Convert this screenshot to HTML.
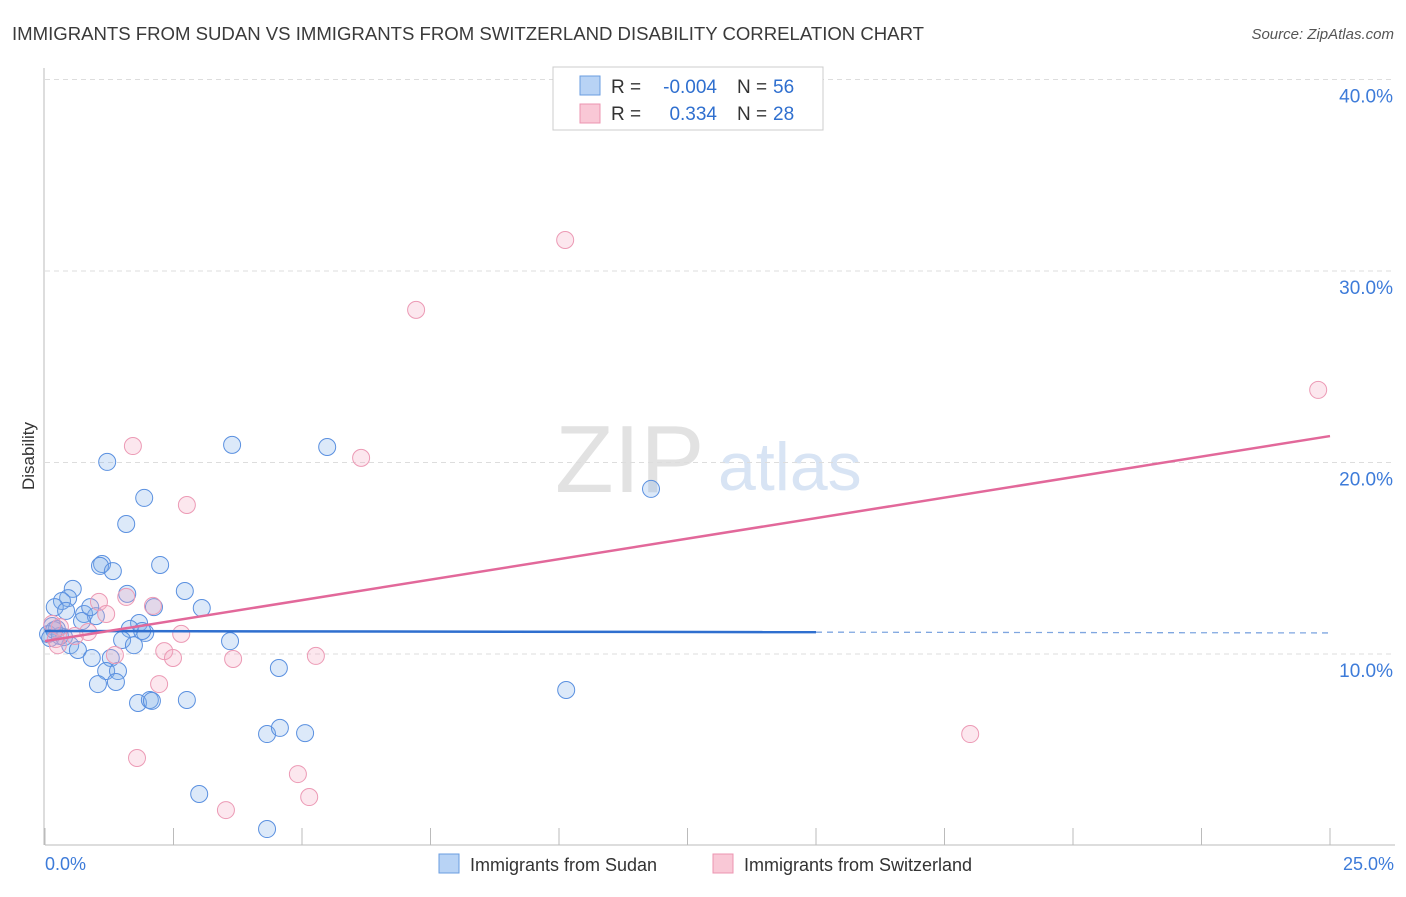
<!DOCTYPE html>
<html><head><meta charset="utf-8">
<style>
body{margin:0;background:#fff;font-family:"Liberation Sans",sans-serif;}
svg text{font-family:"Liberation Sans",sans-serif;}
</style></head>
<body>
<svg id="chart" width="1406" height="892" xmlns="http://www.w3.org/2000/svg">
<text x="12" y="40" font-size="18.6" fill="#3a3a3a" textLength="912">IMMIGRANTS FROM SUDAN VS IMMIGRANTS FROM SWITZERLAND DISABILITY CORRELATION CHART</text>
<text x="1394" y="39" font-size="15" fill="#555" font-style="italic" text-anchor="end">Source: ZipAtlas.com</text>
<text x="555" y="492" font-size="96" fill="#e2e2e2" font-family="Liberation Serif">ZIP</text>
<text x="718" y="490" font-size="68" fill="#d8e4f4">atlas</text>
<g id="grid"></g>
<g id="axes"></g>
<g id="pts"></g>
<g id="trends"></g>
<text x="34" y="456" font-size="17" fill="#333" text-anchor="middle" transform="rotate(-90 34 456)">Disability</text>
<g>
<rect x="553" y="67" width="270" height="63" fill="#fff" stroke="#ccc"/>
<rect x="580" y="76" width="20" height="19" fill="#b8d3f5" stroke="#6a9de0"/>
<rect x="580" y="104" width="20" height="19" fill="#f9c8d6" stroke="#ec94b0"/>
<text x="611" y="93" font-size="19" fill="#333">R =</text>
<text x="717" y="93" font-size="19" fill="#2f6fcf" text-anchor="end">-0.004</text>
<text x="737" y="93" font-size="19" fill="#333">N =</text>
<text x="773" y="93" font-size="19" fill="#2f6fcf">56</text>
<text x="611" y="120" font-size="19" fill="#333">R =</text>
<text x="717" y="120" font-size="19" fill="#2f6fcf" text-anchor="end">0.334</text>
<text x="737" y="120" font-size="19" fill="#333">N =</text>
<text x="773" y="120" font-size="19" fill="#2f6fcf">28</text>
</g>
<g>
<rect x="439" y="854" width="20" height="19" fill="#b8d3f5" stroke="#6a9de0"/>
<text x="470" y="871" font-size="18" fill="#333">Immigrants from Sudan</text>
<rect x="713" y="854" width="20" height="19" fill="#f9c8d6" stroke="#ec94b0"/>
<text x="744" y="871" font-size="18" fill="#333">Immigrants from Switzerland</text>
</g>
</svg>
<script>
const yTicks=[10,20,30,40];
const yTickLabels=["10.0%","20.0%","30.0%","40.0%"];
const xTickLabels=["0.0%","25.0%"];
const sudanX=[1.21,3.64,5.49,11.79,1.93,1.58,1.11,1.07,1.32,2.24,0.54,2.72,0.45,0.33,0.19,1.60,2.12,3.05,0.76,0.99,0.72,1.83,1.65,1.95,1.89,0.14,0.23,0.06,0.10,0.37,0.49,0.64,0.91,1.50,1.73,3.60,1.28,1.19,1.42,1.38,1.03,4.55,1.81,2.04,2.08,2.76,10.14,4.32,4.57,5.06,3.00,4.32,0.29,0.18,0.41,0.88];
const sudanY=[20.03,20.92,20.81,18.62,18.15,16.79,14.70,14.60,14.33,14.65,13.40,13.29,12.92,12.77,12.45,13.14,12.45,12.40,12.09,11.98,11.72,11.62,11.31,11.10,11.20,11.46,11.31,11.04,10.83,10.88,10.46,10.21,9.79,10.73,10.46,10.67,9.79,9.11,9.11,8.54,8.43,9.27,7.44,7.60,7.55,7.60,8.12,5.82,6.14,5.87,2.69,0.86,10.94,11.25,12.25,12.45];
const swissX=[10.12,7.22,24.77,1.71,6.15,2.76,1.58,1.05,1.19,2.10,2.65,0.84,0.29,0.21,0.14,2.32,2.49,3.66,5.27,2.22,1.36,1.79,4.92,5.14,3.52,18.00,0.58,0.25];
const swissY=[31.62,27.97,23.79,20.86,20.24,17.78,12.98,12.72,12.09,12.51,11.05,11.15,11.41,10.78,11.57,10.15,9.79,9.74,9.90,8.43,9.95,4.57,3.73,2.53,1.85,5.82,10.94,10.46];
const sudanTrend=[11.2,11.1];
const swissTrend=[10.67,21.38];
const NS="http://www.w3.org/2000/svg";
const X=v=>45+v/25*1285, Y=v=>845.5-v*19.15;
function mk(t,a,p){const e=document.createElementNS(NS,t);for(const k in a)e.setAttribute(k,a[k]);document.getElementById(p).appendChild(e);return e;}
yTicks.forEach((t,i)=>{
 const g=mk('line',{x1:45,x2:1395,y1:Y(t),y2:Y(t),stroke:'#ddd','stroke-dasharray':'5,4'},'grid');
 
 
 const l=mk('text',{x:1393,y:Y(t)+23,'font-size':19,fill:'#3d7bd9','text-anchor':'end'},'axes');
 l.textContent=yTickLabels[i];
 
 
});
const ax=mk('line',{x1:45,x2:1395,y1:845,y2:845,stroke:'#bbb'},'axes');


const ay=mk('line',{x1:44,x2:44,y1:68,y2:845,stroke:'#bbb'},'axes');


for(let i=0;i<=10;i++){const t=mk('line',{x1:X(i*2.5),x2:X(i*2.5),y1:828,y2:845,stroke:'#bbb'},'axes');
 
 }
[[0,'start',45],[25,'end',1394]].forEach((d,i)=>{const l=mk('text',{x:d[2],y:870,'font-size':18,fill:'#3d7bd9','text-anchor':d[1]},'axes');l.textContent=xTickLabels[i];
 
 });
sudanX.forEach((v,i)=>{const c=mk('circle',{cx:X(v),cy:Y(sudanY[i]),r:8.5,fill:'rgba(130,175,235,0.28)',stroke:'#5a90e0','stroke-width':1},'pts');
 
 });
swissX.forEach((v,i)=>{const c=mk('circle',{cx:X(v),cy:Y(swissY[i]),r:8.5,fill:'rgba(245,170,195,0.28)',stroke:'#ec9ab5','stroke-width':1},'pts');
 
 });
const mid=sudanTrend[0]+(sudanTrend[1]-sudanTrend[0])*0.6;
const b1=mk('line',{x1:X(0),y1:Y(sudanTrend[0]),x2:X(15),y2:Y(mid),stroke:'#2f6fcf','stroke-width':2.5},'trends');


const b2=mk('line',{x1:X(15),y1:Y(mid),x2:X(25),y2:Y(sudanTrend[1]),stroke:'#7fa6e0','stroke-width':1.3,'stroke-dasharray':'6,5'},'trends');


const p=mk('line',{x1:X(0),y1:Y(swissTrend[0]),x2:X(25),y2:Y(swissTrend[1]),stroke:'#e2689a','stroke-width':2.5},'trends');


</script>
</body></html>
